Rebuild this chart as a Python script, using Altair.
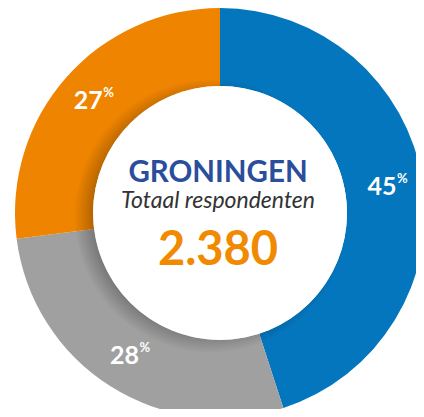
import altair as alt
import pandas as pd

segments = ["Segment A", "Segment B", "Segment C"]
shares = [45, 28, 27]
order = [1, 2, 3]
colors = ["#0476BD", "#A0A0A0", "#EF8400"]

region = "GRONINGEN"
subtitle = "Totaal respondenten"
total = "2.380"

df = pd.DataFrame({"segment": segments, "share": shares, "order": order,
                   "label": [str(s) for s in shares]})

W, H = 408, 401
CX, CY = 212, 205
R_OUT, R_IN = 205, 127
base = alt.Chart(df).encode(
    theta=alt.Theta("share:Q", stack=True),
    order=alt.Order("order:Q"),
    x=alt.value(CX),
    y=alt.value(CY),
)

arcs = base.mark_arc(outerRadius=R_OUT, innerRadius=R_IN).encode(
    color=alt.Color("segment:N", scale=alt.Scale(domain=segments, range=colors), legend=None)
)

# soft inner shadow cast by the centre disc (towards the left)
one = pd.DataFrame({"k": [0]})
R_SH = 137
shadow = alt.Chart(one).mark_arc(
    theta=0, theta2=6.2832, outerRadius=R_SH, innerRadius=0,
    color=alt.Gradient(
        gradient="radial", x1=0.5, y1=0.5, x2=0.5, y2=0.5, r1=0, r2=0.5,
        stops=[alt.GradientStop(color="rgba(0,0,0,0.28)", offset=0),
               alt.GradientStop(color="rgba(0,0,0,0.28)", offset=0.84),
               alt.GradientStop(color="rgba(0,0,0,0)", offset=1)],
    ),
).encode(x=alt.value(CX - 9), y=alt.value(CY + 3))

disc = alt.Chart(one).mark_arc(
    theta=0, theta2=6.2832, outerRadius=R_IN, innerRadius=0, color="white"
).encode(x=alt.value(CX), y=alt.value(CY))

nums = base.mark_text(radius=169, font="Lato", fontWeight="bold", fontSize=25,
                      color="white", align="center", baseline="middle", dx=-5).encode(
    text="label:N"
)
pct = base.mark_text(radius=169, font="Lato", fontWeight="bold", fontSize=13,
                     color="white", align="left", baseline="middle", dx=10, dy=-8).encode(
    text=alt.value("%")
)

center = pd.DataFrame({"t": [region]})
t1 = alt.Chart(center).mark_text(font="Lato", fontWeight="bold", fontSize=29.5, color="#2A4D9C",
                                 align="center", baseline="alphabetic").encode(
    x=alt.value(210), y=alt.value(174), text=alt.value(region))
t2 = alt.Chart(center).mark_text(font="Lato", fontStyle="italic", fontSize=23, color="#333333",
                                 align="center", baseline="alphabetic").encode(
    x=alt.value(210), y=alt.value(200), text=alt.value(subtitle))
t3 = alt.Chart(center).mark_text(font="Lato", fontWeight="bold", fontSize=47, color="#F08A00",
                                 align="center", baseline="alphabetic").encode(
    x=alt.value(210), y=alt.value(257), text=alt.value(total))

chart = alt.layer(arcs, shadow, disc, nums, pct, t1, t2, t3).properties(
    width=W, height=H, padding=0, autosize=alt.AutoSizeParams(type="none")
).configure_view(stroke=None)

chart.save("out.html", embed_options={"renderer": "svg", "actions": False})
